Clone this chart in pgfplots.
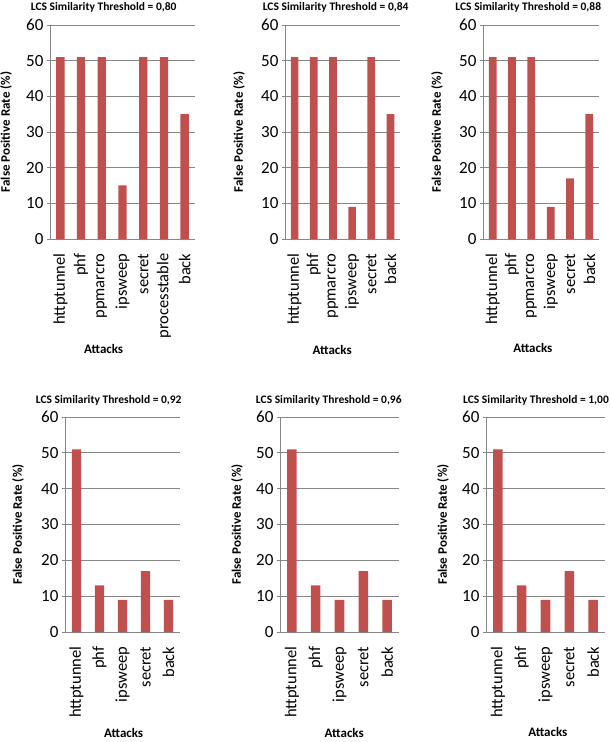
\documentclass[border=0pt]{standalone}
\usepackage{pgfplots}
\pgfplotsset{compat=1.18}
\usepackage{fontspec}
\setmainfont{Carlito}
\definecolor{barred}{RGB}{192,80,77}
\definecolor{gridgray}{RGB}{134,134,134}
\pgfplotsset{
  excelbar/.style={
    scale only axis,
    ybar, bar width=0.4,
    ymin=0, ymax=60, ytick={0,10,...,60},
    enlargelimits=false,
    ymajorgrids, grid style={gridgray, line width=0.75pt},
    axis x line*=bottom, axis y line*=left,
    axis line style={gridgray, line width=0.75pt, -},
    xtick=data, x tick style={draw=none},
    y tick style={gridgray, line width=0.75pt}, tick align=outside, major tick length=3pt,
    /pgf/number format/assume math mode=true,
    yticklabel style={font=\fontsize{17}{17}\selectfont, text=black},
    xticklabel style={rotate=90, anchor=east, font=\fontsize{16.5}{16.5}\selectfont, text=black},
    xticklabel shift=8pt,
    title style={font=\bfseries\fontsize{11.5}{12}\selectfont, anchor=base},
    ylabel style={font=\bfseries\fontsize{13}{13}\selectfont, anchor=center},
    xlabel style={font=\bfseries\fontsize{13}{13}\selectfont, anchor=center},
    ylabel={False Positive Rate (\%)},
    xlabel={Attacks},
  }
}
\begin{document}
\begin{tikzpicture}
\useasboundingbox (0pt,0pt) rectangle (610pt,742pt);
% Panel 1
\begin{axis}[excelbar, at={(50pt,503pt)}, anchor=south west, width=145pt, height=214pt,
  xmin=-0.5, xmax=6.5,
  xticklabels={httptunnel,phf,ppmarcro,ipsweep,secret,processtable,back},
  title={LCS Similarity Threshold = 0,80},
  title style={at={([yshift=8pt]axis description cs:0.37,1)}},
  ylabel style={at={([xshift=-44pt]axis description cs:0,0.5)}},
  xlabel style={at={([yshift=-110pt]axis description cs:0.37,0)}}]
\addplot[fill=barred, draw=none] coordinates {(0,51) (1,51) (2,51) (3,15) (4,51) (5,51) (6,35)};
\end{axis}
% Panel 2
\begin{axis}[excelbar, at={(285pt,503pt)}, anchor=south west, width=115pt, height=214pt,
  xmin=-0.5, xmax=5.5,
  xticklabels={httptunnel,phf,ppmarcro,ipsweep,secret,back},
  title={LCS Similarity Threshold = 0,84},
  title style={at={([yshift=8pt]axis description cs:0.44,1)}},
  ylabel style={at={([xshift=-46pt]axis description cs:0,0.5)}},
  xlabel style={at={([yshift=-111pt]axis description cs:0.41,0)}}]
\addplot[fill=barred, draw=none] coordinates {(0,51) (1,51) (2,51) (3,9) (4,51) (5,35)};
\end{axis}
% Panel 3
\begin{axis}[excelbar, at={(483pt,503pt)}, anchor=south west, width=116pt, height=214pt,
  xmin=-0.5, xmax=5.5,
  xticklabels={httptunnel,phf,ppmarcro,ipsweep,secret,back},
  title={LCS Similarity Threshold = 0,88},
  title style={at={([yshift=8pt]axis description cs:0.39,1)}},
  ylabel style={at={([xshift=-46pt]axis description cs:0,0.5)}},
  xlabel style={at={([yshift=-109pt]axis description cs:0.43,0)}}]
\addplot[fill=barred, draw=none] coordinates {(0,51) (1,51) (2,51) (3,9) (4,17) (5,35)};
\end{axis}
% Panel 4
\begin{axis}[excelbar, at={(65pt,110pt)}, anchor=south west, width=115pt, height=215pt,
  xmin=-0.5, xmax=4.5,
  xticklabels={httptunnel,phf,ipsweep,secret,back},
  title={LCS Similarity Threshold = 0,92},
  title style={at={([yshift=8pt]axis description cs:0.38,1)}},
  ylabel style={at={([xshift=-47pt]axis description cs:0,0.5)}},
  xlabel style={at={([yshift=-101pt]axis description cs:0.51,0)}}]
\addplot[fill=barred, draw=none] coordinates {(0,51) (1,13) (2,9) (3,17) (4,9)};
\end{axis}
% Panel 5
\begin{axis}[excelbar, at={(280pt,110pt)}, anchor=south west, width=119pt, height=215pt,
  xmin=-0.5, xmax=4.5,
  xticklabels={httptunnel,phf,ipsweep,secret,back},
  title={LCS Similarity Threshold = 0,96},
  title style={at={([yshift=8pt]axis description cs:0.41,1)}},
  ylabel style={at={([xshift=-43pt]axis description cs:0,0.5)}},
  xlabel style={at={([yshift=-101pt]axis description cs:0.54,0)}}]
\addplot[fill=barred, draw=none] coordinates {(0,51) (1,13) (2,9) (3,17) (4,9)};
\end{axis}
% Panel 6
\begin{axis}[excelbar, at={(486pt,110pt)}, anchor=south west, width=119pt, height=215pt,
  xmin=-0.5, xmax=4.5,
  xticklabels={httptunnel,phf,ipsweep,secret,back},
  title={LCS Similarity Threshold = 1,00},
  title style={at={([yshift=8pt]axis description cs:0.42,1)}},
  ylabel style={at={([xshift=-43pt]axis description cs:0,0.5)}},
  xlabel style={at={([yshift=-100pt]axis description cs:0.52,0)}}]
\addplot[fill=barred, draw=none] coordinates {(0,51) (1,13) (2,9) (3,17) (4,9)};
\end{axis}
\end{tikzpicture}
\end{document}
